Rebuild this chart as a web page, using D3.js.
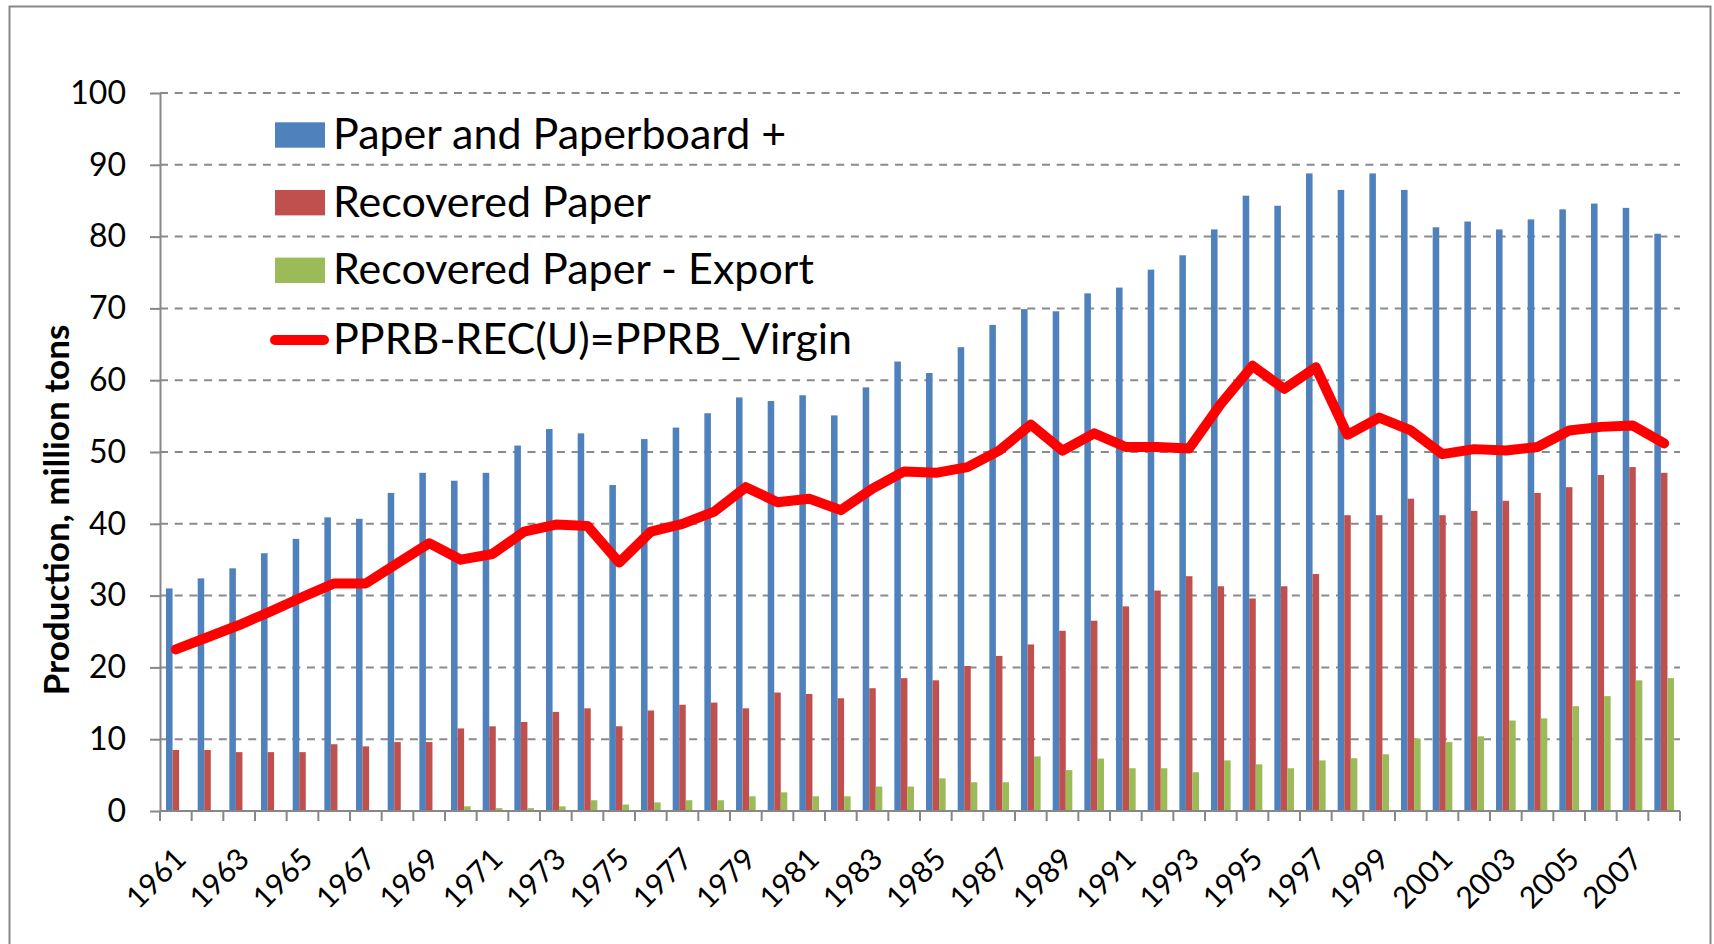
<!DOCTYPE html>
<html><head><meta charset="utf-8">
<script src="https://cdn.jsdelivr.net/npm/d3@7"></script>
<style>
body{margin:0;background:#fff}
svg{display:block}
text{font-family:Lato,"Open Sans",sans-serif;fill:#000}
</style>
</head><body>
<svg id="c" width="1714" height="944"></svg>
<script>
const years = ["1961","1962","1963","1964","1965","1966","1967","1968","1969","1970",
"1971","1972","1973","1974","1975","1976","1977","1978","1979","1980",
"1981","1982","1983","1984","1985","1986","1987","1988","1989","1990",
"1991","1992","1993","1994","1995","1996","1997","1998","1999","2000",
"2001","2002","2003","2004","2005","2006","2007","2008"];

const paperBoard = [31.0,32.4,33.8,35.9,37.9,40.9,40.7,44.3,47.1,46.0,
47.1,50.9,53.2,52.6,45.4,51.8,53.4,55.4,57.6,57.1,
57.9,55.1,59.0,62.6,61.0,64.6,67.7,69.9,69.6,72.1,
72.9,75.4,77.4,81.0,85.7,84.3,88.8,86.5,88.8,86.5,
81.3,82.1,81.0,82.4,83.8,84.6,84.0,80.4];

const recoveredPaper = [8.5,8.5,8.2,8.2,8.2,9.3,9.0,9.6,9.6,11.5,
11.8,12.4,13.8,14.3,11.8,14.0,14.8,15.1,14.3,16.5,
16.3,15.7,17.1,18.5,18.2,20.2,21.6,23.2,25.1,26.5,
28.5,30.7,32.7,31.3,29.6,31.3,33.0,41.2,41.2,43.5,
41.2,41.8,43.2,44.3,45.1,46.8,47.9,47.1];

const recoveredExport = [0,0,0,0,0,0,0,0,0,0.65,
0.4,0.4,0.65,1.5,0.9,1.2,1.5,1.5,2.05,2.6,
2.05,2.05,3.4,3.4,4.55,4.0,4.0,7.6,5.7,7.3,
5.95,5.95,5.4,7.05,6.5,5.95,7.05,7.35,7.9,10.1,
9.6,10.4,12.6,12.9,14.6,16.0,18.2,18.5];

const pprbVirgin = [22.5,24.2,25.9,27.8,29.8,31.7,31.7,34.5,37.3,35.0,
35.8,38.9,39.9,39.7,34.6,38.9,40.0,41.7,45.1,43.0,
43.5,41.9,44.9,47.3,47.1,47.9,50.2,53.8,50.2,52.6,
50.7,50.7,50.5,56.7,62.0,58.8,61.8,52.4,54.8,53.0,
49.7,50.4,50.2,50.7,53.0,53.5,53.7,51.2];

const yTicks = [0,10,20,30,40,50,60,70,80,90,100];
const xLabelYears = ["1961","1963","1965","1967","1969","1971","1973","1975","1977","1979",
"1981","1983","1985","1987","1989","1991","1993","1995","1997","1999","2001","2003","2005","2007"];

const barSeries = ["Paper and Paperboard +","Recovered Paper","Recovered Paper - Export"];
const lineSeries = "PPRB-REC(U)=PPRB_Virgin";
const barColors = ["#4F81BD","#C0504D","#9BBB59"];
const lineColor = "#FF0000";
const yTitle = "Production, million tons";

const svg = d3.select("#c");
const axisColor = "#878787";

// chart frame
svg.append("rect").attr("x",9.5).attr("y",6.5).attr("width",1701).attr("height",1000)
  .attr("fill","#fff").attr("stroke",axisColor).attr("stroke-width",2);

const x = d3.scaleBand().domain(years).range([160,1680]);
const y = d3.scaleLinear().domain([0,100]).range([811,93]);
const bw = x.bandwidth();
const sub = d3.scaleBand().domain([0,1,2]).range([-bw*0.31, bw*0.31]);

// gridlines
svg.append("g").selectAll("line").data(yTicks.filter(d=>d>0)).join("line")
  .attr("x1",160).attr("x2",1680)
  .attr("y1",d=>y(d)).attr("y2",d=>y(d))
  .attr("stroke","#8a8a8a").attr("stroke-width",2).attr("stroke-dasharray","8,6.7");

// bars
const seriesData = [paperBoard, recoveredPaper, recoveredExport];
seriesData.forEach((arr,si)=>{
  svg.append("g").selectAll("rect").data(arr.map((v,i)=>({year:years[i],v}))).join("rect")
    .attr("x",d=>x(d.year)+bw/2+sub(si))
    .attr("width",sub.bandwidth())
    .attr("y",d=>y(d.v))
    .attr("height",d=>y(0)-y(d.v))
    .attr("fill",barColors[si]);
});

// y axis
const yAxis = d3.axisLeft(y).tickValues(yTicks).tickSize(10).tickSizeOuter(0).tickPadding(24);
const gy = svg.append("g").attr("transform","translate(160,0)").call(yAxis);
gy.select(".domain").attr("stroke",axisColor).attr("stroke-width",2);
gy.selectAll(".tick line").attr("stroke",axisColor).attr("stroke-width",2);
gy.selectAll(".tick text").style("font-family","Lato").style("font-size","32px").attr("fill","#000");

// x axis
svg.append("line").attr("x1",160).attr("x2",1680).attr("y1",y(0)).attr("y2",y(0))
  .attr("stroke",axisColor).attr("stroke-width",2);
const bounds = years.map(d=>x(d)).concat([x.range()[1]]);
svg.append("g").selectAll("line").data(bounds).join("line")
  .attr("x1",d=>d).attr("x2",d=>d).attr("y1",y(0)).attr("y2",y(0)+10)
  .attr("stroke",axisColor).attr("stroke-width",2);
svg.append("g").selectAll("text").data(xLabelYears).join("text")
  .attr("transform",d=>`translate(${x(d)+bw/2+12},${y(0)+50}) rotate(-45)`)
  .attr("text-anchor","end")
  .style("font-size","30px")
  .text(d=>d);

// line
const line = d3.line().x((d,i)=>x(years[i])+bw/2).y(d=>y(d));
svg.append("path").datum(pprbVirgin).attr("d",line)
  .attr("fill","none").attr("stroke",lineColor).attr("stroke-width",10)
  .attr("stroke-linejoin","round").attr("stroke-linecap","round");

// y title
svg.append("text").attr("transform","translate(69,510) rotate(-90)")
  .attr("text-anchor","middle").style("font-size","35px").style("font-weight","bold")
  .text(yTitle);

// legend
const rowY = [135,202.7,270.3,340];
const lg = svg.append("g");
barSeries.forEach((name,i)=>{
  lg.append("rect").attr("x",275).attr("y",rowY[i]-12.7).attr("width",50).attr("height",25.4)
    .attr("fill",barColors[i]);
  lg.append("text").attr("x",333).attr("y",rowY[i]+14).style("font-size","43px").text(name);
});
lg.append("line").attr("x1",275).attr("x2",324).attr("y1",rowY[3]).attr("y2",rowY[3])
  .attr("stroke",lineColor).attr("stroke-width",10).attr("stroke-linecap","round");
lg.append("text").attr("x",333).attr("y",rowY[3]+14).style("font-size","43px").text(lineSeries);
</script>
</body></html>
